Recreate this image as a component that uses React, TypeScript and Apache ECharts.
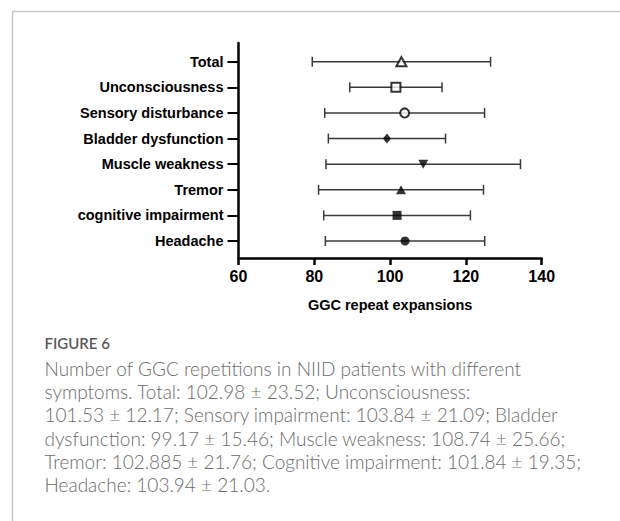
import React, { useEffect, useRef } from "react";
import * as echarts from "echarts";

const categories = [
  "Headache",
  "cognitive impairment",
  "Tremor",
  "Muscle weakness",
  "Bladder dysfunction",
  "Sensory disturbance",
  "Unconsciousness",
  "Total",
];
const means = [103.94, 101.84, 102.885, 108.74, 99.17, 103.84, 101.53, 102.98];
const sds = [21.03, 19.35, 21.76, 25.66, 15.46, 21.09, 12.17, 23.52];
const symbols = ["circle", "rect", "triangle", "triangle", "diamond", "circle", "rect", "triangle"];
const filled = [true, true, true, true, true, false, false, false];
const rotations = [0, 0, 0, 180, 0, 0, 0, 0];
const xMin = 60;
const xMax = 140;
const xStep = 20;

const captionTitle = "FIGURE 6";
const captionLines = [
  "Number of GGC repetitions in NIID patients with different",
  "symptoms. Total: 102.98 \u00b1 23.52; Unconsciousness:",
  "101.53 \u00b1 12.17; Sensory impairment: 103.84 \u00b1 21.09; Bladder",
  "dysfunction: 99.17 \u00b1 15.46; Muscle weakness: 108.74 \u00b1 25.66;",
  "Tremor: 102.885 \u00b1 21.76; Cognitive impairment: 101.84 \u00b1 19.35;",
  "Headache: 103.94 \u00b1 21.03.",
];

export default function App() {
  const ref = useRef<HTMLDivElement>(null);
  useEffect(() => {
    if (!ref.current) return;
    const chart = echarts.init(ref.current, null, { renderer: "svg" });
    const idxs = categories.map((_, i) => i);
    const errData = idxs.map((i) => [means[i] - sds[i], means[i] + sds[i], i]);
    const markerData = idxs.map((i) => {
      const isTri = symbols[i] === "triangle";
      const size = symbols[i] === "diamond" ? [8, 10] : isTri ? [10, 9] : 9;
      return {
        value: [means[i], i],
        symbol: symbols[i],
        symbolSize: size,
        symbolRotate: rotations[i],
        itemStyle: filled[i]
          ? { color: "#000", borderColor: "#000", borderWidth: 0 }
          : { color: "#fff", borderColor: "#000", borderWidth: 2 },
      };
    });
    const font = "'Liberation Sans', Arial, sans-serif";
    const capFont = "Lato, 'Open Sans', sans-serif";
    const graphics: any[] = [
      { type: "line", shape: { x1: 12.5, y1: 11.5, x2: 640, y2: 11.5 }, style: { stroke: "#c6c6c6", lineWidth: 1.5 } },
      { type: "line", shape: { x1: 12.5, y1: 11.5, x2: 12.5, y2: 540 }, style: { stroke: "#c6c6c6", lineWidth: 1.5 } },
      {
        type: "text",
        left: 44.5,
        top: 335,
        style: { text: captionTitle, fontFamily: capFont, fontSize: 15, fontWeight: 600, fill: "#5a5a5a" },
      },
    ];
    captionLines.forEach((t, k) => {
      graphics.push({
        type: "text",
        left: 44.5,
        top: 358.5 + k * 23.35,
        style: { text: t, fontFamily: capFont, fontSize: 19, fontWeight: 300, fill: "#6b6b6b" },
      });
    });
    chart.setOption({
      animation: false,
      grid: { left: 238.5, right: 78.3, top: 43, bottom: 263, containLabel: false },
      xAxis: {
        type: "value",
        min: xMin,
        max: xMax,
        interval: xStep,
        splitLine: { show: false },
        axisLine: { show: true, onZero: false, lineStyle: { color: "#000", width: 2.5 } },
        axisTick: { show: true, length: 7, lineStyle: { color: "#000", width: 2.5 } },
        axisLabel: { color: "#000", fontFamily: font, fontWeight: "bold", fontSize: 16, margin: 10 },
        name: "GGC repeat expansions",
        nameLocation: "middle",
        nameGap: 39,
        nameTextStyle: { color: "#000", fontFamily: font, fontWeight: "bold", fontSize: 14.5 },
      },
      yAxis: {
        type: "value",
        min: -0.664,
        max: 7.73,
        splitLine: { show: false },
        axisLine: { show: true, onZero: false, lineStyle: { color: "#000", width: 2.5 } },
        axisTick: { show: true, length: 11, customValues: idxs, lineStyle: { color: "#000", width: 2 } },
        axisLabel: {
          customValues: idxs,
          formatter: (v: number) => categories[Math.round(v)] ?? "",
          color: "#000",
          fontFamily: font,
          fontWeight: "bold",
          fontSize: 14.5,
          margin: 15,
        },
      },
      series: [
        {
          type: "custom",
          data: errData,
          encode: { x: [0, 1], y: 2 },
          z: 1,
          renderItem: (params: any, api: any) => {
            const lo = api.value(0);
            const hi = api.value(1);
            const idx = api.value(2);
            const p1 = api.coord([lo, idx]);
            const p2 = api.coord([hi, idx]);
            const h = 5;
            const st = { stroke: "#3a3a3a", lineWidth: 1.5 };
            return {
              type: "group",
              children: [
                { type: "line", shape: { x1: p1[0], y1: p1[1], x2: p2[0], y2: p2[1] }, style: st },
                { type: "line", shape: { x1: p1[0], y1: p1[1] - h, x2: p1[0], y2: p1[1] + h }, style: st },
                { type: "line", shape: { x1: p2[0], y1: p2[1] - h, x2: p2[0], y2: p2[1] + h }, style: st },
              ],
            };
          },
        },
        {
          type: "scatter",
          data: markerData,
          z: 3,
        },
      ],
      graphic: graphics,
    });
    return () => chart.dispose();
  }, []);
  return (
    <div
      ref={ref}
      style={{ position: "absolute", left: 0, top: 0, width: 620, height: 521, background: "#fff" }}
    />
  );
}
